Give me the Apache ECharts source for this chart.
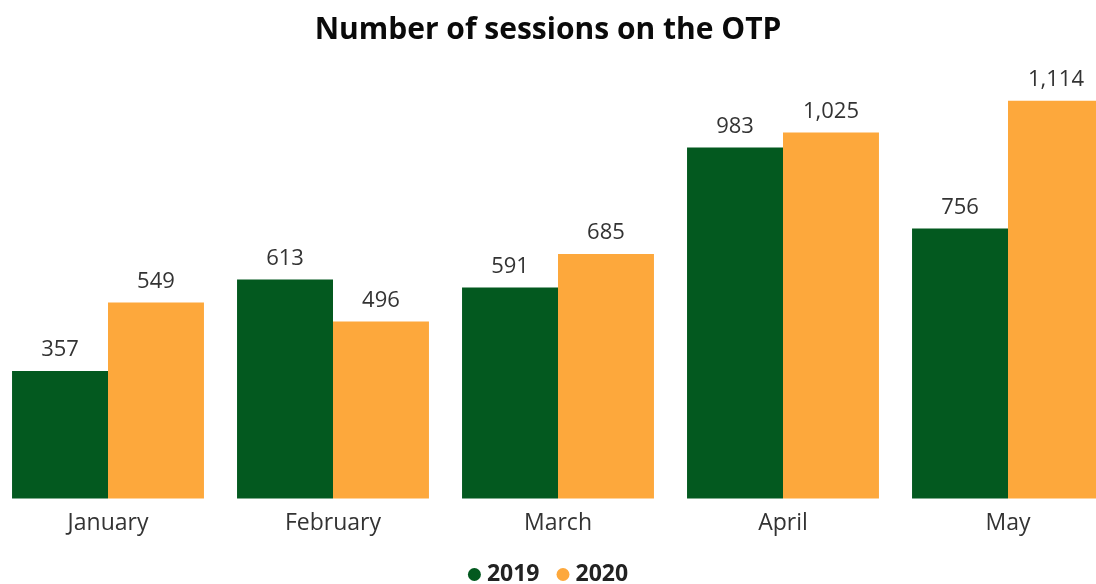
<!DOCTYPE html>
<html>
<head>
<meta charset="utf-8">
<title>Number of sessions on the OTP</title>
<script src="https://cdn.jsdelivr.net/npm/echarts@6/dist/echarts.min.js"></script>
<style>
  html, body { margin: 0; padding: 0; background: #fff; }
  #chart { width: 1096px; height: 584px; }
</style>
</head>
<body>
<div id="chart"></div>
<script>
const months = ['January', 'February', 'March', 'April', 'May']
const sessions2019 = [357, 613, 591, 983, 756]
const sessions2020 = [549, 496, 685, 1025, 1114]

const chart = echarts.init(document.getElementById('chart'))

const labelStyle = {
  show: true,
  position: 'top',
  distance: 10,
  fontFamily: 'Open Sans',
  fontSize: 22,
  color: '#333',
  formatter: (p) => p.value.toLocaleString('en-US')
}

const option = {
  animation: false,
  title: {
    text: 'Number of sessions on the OTP',
    left: 'center',
    top: 10,
    textStyle: {
      fontFamily: 'Open Sans',
      fontWeight: 'bold',
      fontSize: 30,
      color: '#0a0a0a'
    }
  },
  legend: {
    top: 558,
    left: 'center',
    icon: 'circle',
    itemWidth: 13,
    itemHeight: 13,
    itemGap: 17,
    textStyle: {
      fontFamily: 'Open Sans',
      fontWeight: 'bold',
      fontSize: 23,
      color: '#222',
      padding: [0, 0, 0, 1]
    },
    data: ['2019', '2020']
  },
  grid: {
    outerBoundsMode: 'none',
    containLabel: false,
    left: -4.5,
    width: 1125,
    top: 70,
    bottom: 85.5
  },
  xAxis: {
    type: 'category',
    data: months,
    axisLine: { show: false },
    axisTick: { show: false },
    axisLabel: {
      fontFamily: 'Open Sans',
      fontSize: 23,
      color: '#333',
      margin: 13
    }
  },
  yAxis: {
    type: 'value',
    min: 0,
    max: 1200,
    show: false,
    splitLine: { show: false }
  },
  series: [
    {
      name: '2019',
      type: 'bar',
      data: sessions2019,
      barGap: '0%',
      barCategoryGap: '14.7%',
      itemStyle: { color: '#03591F' },
      label: labelStyle
    },
    {
      name: '2020',
      type: 'bar',
      data: sessions2020,
      barGap: '0%',
      barCategoryGap: '14.7%',
      itemStyle: { color: '#FDA83C' },
      label: labelStyle
    }
  ]
}

chart.setOption(option)
</script>
</body>
</html>
